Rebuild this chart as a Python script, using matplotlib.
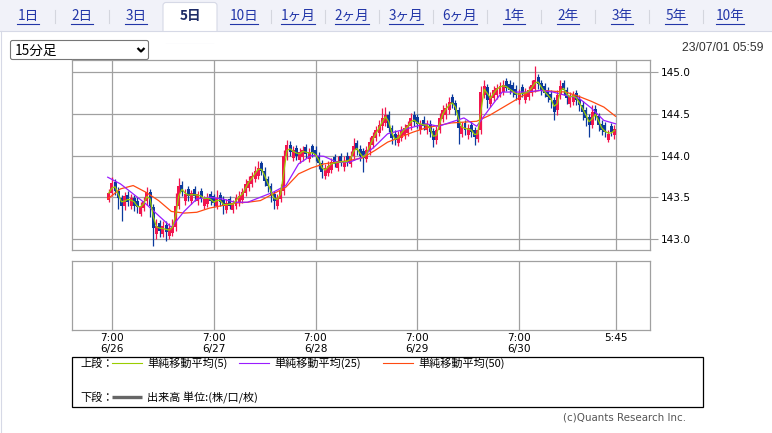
import numpy as np
import pandas as pd
import matplotlib
matplotlib.use("Agg")
import matplotlib.pyplot as plt
from matplotlib.patches import Rectangle, FancyBboxPatch

plt.rcParams['font.family'] = ['Noto Sans CJK JP', 'DejaVu Sans']

W, H = 772, 433

# ---- data ----
tabs = ['1日', '2日', '3日', '5日', '10日', '1ヶ月', '2ヶ月', '3ヶ月', '6ヶ月',
        '1年', '2年', '3年', '5年', '10年']
active_tab = '5日'
interval_label = '15分足'
timestamp = '23/07/01 05:59'

# 45-minute candles (USD/JPY), 6/26 6:00 -> 7/1 5:45
opens = [
    143.47, 143.55, 143.68, 143.58, 143.49, 143.40, 143.53, 143.40, 143.49, 143.46,
    143.30, 143.37, 143.45, 143.56, 143.38, 143.06, 143.19, 143.06, 143.17, 143.04,
    143.07, 143.14, 143.40, 143.65, 143.45, 143.60, 143.46, 143.60, 143.45, 143.58,
    143.40, 143.42, 143.54, 143.51, 143.40, 143.53, 143.47, 143.35, 143.48, 143.35,
    143.40, 143.44, 143.47, 143.55, 143.61, 143.66, 143.72, 143.76, 143.91, 143.82,
    143.72, 143.63, 143.54, 143.40, 143.48, 143.57, 143.99, 144.13, 143.97, 144.09,
    143.95, 143.98, 144.10, 143.96, 144.11, 144.07, 144.00, 143.91, 143.76, 143.79,
    143.83, 143.98, 143.85, 143.99, 143.86, 144.00, 143.90, 143.99, 144.15, 144.08,
    144.05, 143.96, 144.05, 144.13, 144.21, 144.27, 144.35, 144.39, 144.48, 144.33,
    144.26, 144.15, 144.21, 144.24, 144.27, 144.35, 144.49, 144.46, 144.30, 144.43,
    144.30, 144.38, 144.29, 144.19, 144.31, 144.44, 144.48, 144.54, 144.70, 144.63,
    144.54, 144.26, 144.39, 144.24, 144.37, 144.30, 144.20, 144.30, 144.73, 144.82,
    144.62, 144.69, 144.72, 144.74, 144.76, 144.89, 144.86, 144.84, 144.80, 144.66,
    144.82, 144.67, 144.70, 144.75, 144.80, 144.94, 144.87, 144.83, 144.78, 144.74,
    144.66, 144.54, 144.72, 144.87, 144.78, 144.62, 144.64, 144.75, 144.68, 144.61,
    144.54, 144.46, 144.37, 144.56, 144.47, 144.38, 144.36, 144.19, 144.35, 144.24,
]
closes = [
    143.55, 143.67, 143.58, 143.49, 143.40, 143.51, 143.44, 143.49, 143.40, 143.38,
    143.39, 143.46, 143.56, 143.40, 143.13, 143.16, 143.10, 143.15, 143.08, 143.13,
    143.15, 143.40, 143.63, 143.56, 143.54, 143.51, 143.55, 143.51, 143.54, 143.49,
    143.48, 143.50, 143.45, 143.43, 143.49, 143.44, 143.39, 143.43, 143.40, 143.43,
    143.49, 143.52, 143.56, 143.66, 143.70, 143.75, 143.82, 143.85, 143.82, 143.70,
    143.63, 143.51, 143.46, 143.49, 143.58, 144.00, 144.12, 144.04, 144.06, 144.00,
    144.04, 144.06, 144.02, 144.04, 144.03, 143.99, 143.91, 143.80, 143.85, 143.88,
    143.92, 143.90, 143.94, 143.91, 143.94, 143.92, 144.00, 144.11, 144.06, 143.99,
    143.97, 144.06, 144.16, 144.23, 144.30, 144.36, 144.45, 144.48, 144.33, 144.21,
    144.18, 144.24, 144.30, 144.33, 144.36, 144.45, 144.40, 144.38, 144.38, 144.35,
    144.38, 144.28, 144.18, 144.30, 144.45, 144.54, 144.57, 144.64, 144.62, 144.54,
    144.33, 144.35, 144.30, 144.33, 144.28, 144.22, 144.30, 144.76, 144.83, 144.66,
    144.71, 144.78, 144.81, 144.83, 144.84, 144.81, 144.78, 144.76, 144.72, 144.75,
    144.74, 144.76, 144.78, 144.84, 144.90, 144.86, 144.78, 144.75, 144.70, 144.66,
    144.52, 144.72, 144.83, 144.78, 144.69, 144.71, 144.72, 144.66, 144.60, 144.52,
    144.45, 144.36, 144.52, 144.47, 144.36, 144.30, 144.28, 144.26, 144.28, 144.32,
]
highs = [
    143.60, 143.74, 143.72, 143.62, 143.53, 143.56, 143.57, 143.54, 143.53, 143.50,
    143.44, 143.50, 143.62, 143.60, 143.42, 143.24, 143.23, 143.22, 143.21, 143.19,
    143.24, 143.55, 143.73, 143.69, 143.60, 143.64, 143.59, 143.63, 143.58, 143.61,
    143.52, 143.55, 143.57, 143.54, 143.59, 143.56, 143.51, 143.48, 143.52, 143.47,
    143.54, 143.57, 143.61, 143.72, 143.75, 143.80, 143.88, 143.94, 143.94, 143.86,
    143.76, 143.67, 143.58, 143.54, 143.66, 144.06, 144.19, 144.17, 144.11, 144.13,
    144.09, 144.11, 144.14, 144.09, 144.14, 144.11, 144.04, 143.95, 143.90, 143.93,
    143.97, 144.02, 143.99, 144.03, 143.99, 144.04, 144.05, 144.21, 144.19, 144.12,
    144.09, 144.11, 144.22, 144.28, 144.35, 144.42, 144.57, 144.58, 144.53, 144.37,
    144.30, 144.29, 144.35, 144.38, 144.41, 144.51, 144.53, 144.50, 144.43, 144.47,
    144.43, 144.42, 144.33, 144.35, 144.51, 144.60, 144.63, 144.70, 144.74, 144.67,
    144.58, 144.40, 144.43, 144.38, 144.41, 144.34, 144.35, 144.83, 144.91, 144.86,
    144.76, 144.83, 144.86, 144.88, 144.90, 144.93, 144.90, 144.88, 144.84, 144.80,
    144.86, 144.81, 144.83, 144.90, 145.07, 144.98, 144.91, 144.87, 144.82, 144.78,
    144.70, 144.78, 144.91, 144.91, 144.82, 144.76, 144.77, 144.79, 144.72, 144.65,
    144.58, 144.50, 144.60, 144.60, 144.51, 144.42, 144.40, 144.31, 144.39, 144.37,
]
lows = [
    143.44, 143.51, 143.53, 143.36, 143.22, 143.35, 143.39, 143.36, 143.33, 143.31,
    143.27, 143.33, 143.41, 143.26, 142.92, 143.00, 143.02, 143.02, 142.97, 143.00,
    143.03, 143.10, 143.36, 143.51, 143.41, 143.46, 143.42, 143.46, 143.41, 143.44,
    143.36, 143.38, 143.41, 143.38, 143.36, 143.40, 143.30, 143.31, 143.36, 143.31,
    143.36, 143.40, 143.43, 143.51, 143.57, 143.62, 143.68, 143.72, 143.77, 143.64,
    143.56, 143.44, 143.36, 143.36, 143.44, 143.53, 143.95, 143.99, 143.93, 143.95,
    143.91, 143.94, 143.97, 143.92, 143.98, 143.94, 143.84, 143.73, 143.72, 143.75,
    143.79, 143.86, 143.81, 143.87, 143.82, 143.88, 143.86, 143.95, 144.01, 143.94,
    143.80, 143.92, 144.01, 144.09, 144.17, 144.23, 144.31, 144.35, 144.28, 144.14,
    144.12, 144.11, 144.17, 144.20, 144.23, 144.31, 144.35, 144.33, 144.26, 144.30,
    144.26, 144.22, 144.10, 144.14, 144.27, 144.40, 144.44, 144.50, 144.57, 144.48,
    144.14, 144.22, 144.25, 144.20, 144.22, 144.13, 144.16, 144.26, 144.69, 144.57,
    144.58, 144.65, 144.68, 144.70, 144.72, 144.77, 144.74, 144.70, 144.66, 144.62,
    144.70, 144.63, 144.66, 144.71, 144.76, 144.80, 144.72, 144.70, 144.64, 144.57,
    144.42, 144.49, 144.68, 144.72, 144.62, 144.58, 144.60, 144.60, 144.53, 144.43,
    144.35, 144.22, 144.33, 144.42, 144.29, 144.24, 144.22, 144.16, 144.23, 144.20,
]

# moving averages read every 3 hours (15-min bar index)
ma_index = [0, 12, 24, 36, 48, 60, 72, 84, 96, 108, 120, 132, 144, 156, 168, 180,
            192, 204, 216, 228, 240, 252, 264, 276, 288, 300, 312, 324, 336, 348,
            360, 372, 384, 396, 408, 420, 432, 444, 456, 468, 479]
ma25 = [143.74, 143.66, 143.54, 143.42, 143.28, 143.14, 143.33, 143.48, 143.50, 143.48,
        143.44, 143.44, 143.50, 143.56, 143.64, 143.90, 144.00, 143.99, 143.92, 143.92,
        143.98, 144.11, 144.26, 144.30, 144.34, 144.38, 144.35, 144.40, 144.45, 144.35,
        144.56, 144.76, 144.76, 144.76, 144.78, 144.76, 144.72, 144.69, 144.57, 144.42,
        144.38]
ma50 = [143.48, 143.60, 143.64, 143.56, 143.46, 143.33, 143.31, 143.32, 143.37, 143.40,
        143.43, 143.44, 143.46, 143.54, 143.62, 143.78, 143.85, 143.90, 143.92, 143.94,
        143.97, 144.06, 144.16, 144.22, 144.28, 144.33, 144.36, 144.39, 144.40, 144.41,
        144.48, 144.57, 144.66, 144.75, 144.78, 144.77, 144.76, 144.71, 144.65, 144.58,
        144.47]

grid_index = [4, 100, 196, 292, 388, 479]
x_labels = ['7:00\n6/26', '7:00\n6/27', '7:00\n6/28', '7:00\n6/29', '7:00\n6/30', '5:45']
y_ticks = [143.0, 143.5, 144.0, 144.5, 145.0]

legend_items = [('単純移動平均(5)', '#9acd00'),
                ('単純移動平均(25)', '#9a1cff'),
                ('単純移動平均(50)', '#ff4a12')]

RED = '#f2154e'
BLUE = '#0c3a9c'
GRID = '#a0a0a0'


def frac(x0, y0, x1, y1):
    """pixel box -> figure fraction rect"""
    return [x0 / W, 1 - y1 / H, (x1 - x0) / W, (y1 - y0) / H]


fig = plt.figure(figsize=(W / 100, H / 100), dpi=100)
bg = fig.add_axes([0, 0, 1, 1])
bg.set_xlim(0, W)
bg.set_ylim(H, 0)
bg.axis('off')

# ---- tab bar ----
bg.add_patch(Rectangle((0, 0), W, 30.5, fc='#f1f2f9', ec='none'))
bg.plot([0, W], [30.5, 30.5], color='#d6d9e6', lw=0.8)
act = tabs.index(active_tab)
ax0 = 55 + 54 * (act - 1)
bg.add_patch(FancyBboxPatch((ax0, 2.5), 54, 40, boxstyle='round,pad=0,rounding_size=3',
                            fc='white', ec='#d6d9e6', lw=0.8))
bg.add_patch(Rectangle((0, 31.2), W, 12, fc='white', ec='none'))
bg.plot([1, 1], [30.5, H], color='#d6d9e6', lw=0.8)

tab_texts = []
for k, name in enumerate(tabs):
    cx = 28 + 54 * k
    if name == active_tab:
        bg.text(cx, 16, name, ha='center', va='center', fontsize=9.8,
                fontweight='bold', color='#1d2b66')
    else:
        t = bg.text(cx, 16, name, ha='center', va='center', fontsize=9.8, color='#2236a8')
        tab_texts.append(t)
    if k < len(tabs) - 1 and k not in (act - 1, act):
        sx = 55 + 54 * k
        bg.plot([sx, sx], [10, 23], color='#d4d6de', lw=0.8)

# dropdown
bg.add_patch(FancyBboxPatch((10.5, 40.5), 138, 19, boxstyle='round,pad=0,rounding_size=2',
                            fc='white', ec='#767676', lw=0.8))
bg.text(15, 50.5, interval_label, ha='left', va='center', fontsize=9.8, color='black')
bg.plot([137.5, 141, 144.5], [48, 51.5, 48], color='black', lw=1.6, solid_capstyle='butt')

bg.text(763, 48, timestamp, ha='right', va='center', fontsize=8.8, color='#333333',
        family=['Liberation Sans', 'DejaVu Sans'])

# ---- price panel ----
ax = fig.add_axes(frac(72, 60, 650, 250))
xlim = (-33.7, 511.5)
xs = np.arange(len(closes)) * 3 + 1
o = np.array(opens)
c = np.array(closes)
colors = np.where(c >= o, RED, BLUE)
ax.vlines(xs, lows, highs, colors=colors, lw=0.9, zorder=3)
ax.bar(xs, np.abs(c - o), bottom=np.minimum(o, c), width=2.8,
       color=colors, lw=0, zorder=3)
ax.plot(ma_index, ma50, color=legend_items[2][1], lw=0.9, zorder=4)
ax.plot(ma_index, ma25, color=legend_items[1][1], lw=0.9, zorder=4)
ma5 = pd.Series(closes).rolling(2, min_periods=1).mean()
ax.plot(xs, ma5, color=legend_items[0][1], lw=0.9, zorder=5)

ax.set_xlim(*xlim)
ax.set_ylim(142.868, 145.144)
ax.set_xticks(grid_index)
ax.set_xticklabels([])
ax.set_yticks(y_ticks)
ax.yaxis.tick_right()
ax.set_yticklabels([f'{v:.1f}' for v in y_ticks], family='DejaVu Sans')
ax.tick_params(axis='y', length=5.8, width=0.8, color=GRID, labelsize=7.6, pad=2)
ax.tick_params(axis='x', length=0)
ax.grid(True, color=GRID, lw=0.9)
ax.set_axisbelow(True)
for s in ax.spines.values():
    s.set_color(GRID)
    s.set_linewidth(0.9)

# ---- volume panel (empty) ----
axv = fig.add_axes(frac(72, 261, 650, 330))
axv.set_xlim(*xlim)
axv.set_ylim(0, 1)
axv.set_yticks([])
axv.set_xticks(grid_index)
axv.set_xticklabels(x_labels, family='DejaVu Sans', fontsize=7.6, linespacing=1.15)
axv.tick_params(axis='x', length=0, pad=2)
axv.grid(True, axis='x', color=GRID, lw=0.9)
for s in axv.spines.values():
    s.set_color(GRID)
    s.set_linewidth(0.9)

# ---- legend box ----
bg.add_patch(Rectangle((72, 357), 631, 50, fill=False, ec='black', lw=0.9))
bg.text(80, 363.5, '上段：', ha='left', va='center', fontsize=8)
line_x = [112, 239, 383]
for (label, col), lx in zip(legend_items, line_x):
    bg.plot([lx, lx + 30], [363, 363], color=col, lw=0.8)
    bg.text(lx + 35, 363.5, label, ha='left', va='center', fontsize=8)
bg.text(80, 397.5, '下段：', ha='left', va='center', fontsize=8)
bg.plot([112, 142], [397, 397], color='#666666', lw=2.4, solid_capstyle='butt')
bg.text(147, 397.5, '出来高 単位:(株/口/枚)', ha='left', va='center', fontsize=8)

bg.text(686, 418, '(c)Quants Research Inc.', ha='right', va='center', fontsize=7.4,
        color='#555555', family='DejaVu Sans')

# underline the tab links
fig.canvas.draw()
for t in tab_texts:
    bb = t.get_window_extent()
    yl = H - bb.y0 + 1
    bg.plot([bb.x0, bb.x1], [yl, yl], color='#2236a8', lw=0.8)

fig.savefig('out.png', dpi=100)
